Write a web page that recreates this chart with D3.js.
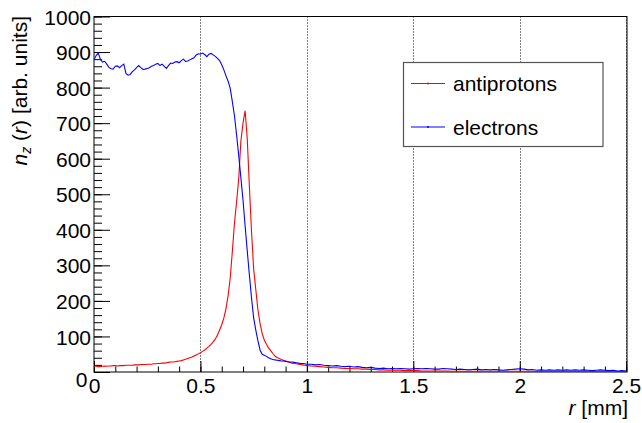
<!DOCTYPE html>
<html>
<head>
<meta charset="utf-8">
<script src="https://cdn.jsdelivr.net/npm/d3@7"></script>
<style>
  body { margin: 0; background: #fff; }
  svg { display: block; }
  text { font-family: "Liberation Sans", Arial, Helvetica, sans-serif; fill: #000; }
</style>
</head>
<body>
<div id="chart"></div>
<script>
// bin centres in mm: fine bins up to 1 mm, coarser in the tail
const rCore = [0.00,0.01,0.02,0.03,0.04,0.05,0.06,0.07,0.08,0.09,
  0.10,0.11,0.12,0.13,0.14,0.15,0.16,0.17,0.18,0.19,
  0.20,0.21,0.22,0.23,0.24,0.25,0.26,0.27,0.28,0.29,
  0.30,0.31,0.32,0.33,0.34,0.35,0.36,0.37,0.38,0.39,
  0.40,0.41,0.42,0.43,0.44,0.45,0.46,0.47,0.48,0.49,
  0.50,0.51,0.52,0.53,0.54,0.55,0.56,0.57,0.58,0.59,
  0.60,0.61,0.62,0.63,0.64,0.65,0.66,0.67,0.68,0.69,
  0.70,0.71,0.72,0.73,0.74,0.75,0.76,0.77,0.78,0.79,
  0.80,0.81,0.82,0.83,0.84,0.85,0.86,0.87,0.88,0.89,
  0.90,0.91,0.92,0.93,0.94,0.95,0.96,0.97,0.98,0.99,1.00]
const rTail = [1.02,1.04,1.06,1.08,1.10,1.12,1.14,1.16,1.18,1.20,
  1.22,1.24,1.26,1.28,1.30,1.32,1.34,1.36,1.38,1.40,
  1.42,1.44,1.46,1.48,1.50,1.52,1.54,1.56,1.58,1.60,
  1.62,1.64,1.66,1.68,1.70,1.72,1.74,1.76,1.78,1.80,
  1.82,1.84,1.86,1.88,1.90,1.92,1.94,1.96,1.98,2.00,
  2.02,2.04,2.06,2.08,2.10,2.12,2.14,2.16,2.18,2.20,
  2.22,2.24,2.26,2.28,2.30,2.32,2.34,2.36,2.38,2.40,
  2.42,2.44,2.46,2.48,2.50]

const antiCore = [17,16,15,15,16,17,16,17,17,18,
  18,17,18,18,18,19,19,19,19,20,
  20,20,21,21,21,22,22,22,23,23,
  24,24,25,25,26,27,28,28,29,30,
  31,32,34,36,38,40,42,45,48,51,
  54,58,62,67,72,78,85,93,104,118,
  133,152,178,215,265,340,420,480,545,650,
  700,735,655,520,395,290,232,175,137,108,
  90,78,68,60,52,45,41,38,35,33,
  31,29,27,25,24,23,22,21,20,19,18]
const antiTail = [17,16,15,14,13,12,12,11,10,10,
  9,9,8,8,7,7,6,6,5,5,
  5,5,4,4,4,4,3,3,3,3,
  3,3,3,2,2,2,2,2,2,2,
  2,2,2,2,2,2,2,2,2,2,
  2,2,2,1,1,1,1,1,1,1,
  1,1,1,1,1,1,1,1,1,1,
  1,1,1,1,1]

const elecCore = [878,890,897,880,872,874,866,857,853,852,
  860,861,856,862,866,840,835,837,845,850,
  856,862,856,851,852,854,856,860,862,866,
  868,862,866,860,854,862,869,868,872,873,
  870,876,880,874,875,878,881,884,892,895,
  894,897,893,887,894,896,892,888,882,876,
  864,850,833,818,798,760,720,666,608,546,
  484,410,340,272,208,152,118,88,62,50,
  47,44,40,37,35,34,33,32,31,31,
  30,29,28,28,27,26,25,24,24,23,22]
const elecTail = [22,20,21,19,18,17,18,16,15,16,
  14,15,13,12,13,11,10,11,9,10,
  9,10,9,8,9,10,9,10,9,8,
  8,10,9,8,7,8,7,6,7,8,
  6,7,6,7,6,5,6,7,8,9,
  8,6,7,5,6,5,6,5,6,5,
  6,5,6,5,6,5,4,5,6,5,
  4,5,3,4,3]

const xTicks = [0, 0.5, 1, 1.5, 2, 2.5]
const yTicks = [0, 100, 200, 300, 400, 500, 600, 700, 800, 900, 1000]

const series = [
  { name: 'antiprotons', color: '#ff0000', r: rCore.concat(rTail), v: antiCore.concat(antiTail) },
  { name: 'electrons', color: '#0000ff', r: rCore.concat(rTail), v: elecCore.concat(elecTail) }
]

const W = 642, H = 423
const plot = { left: 94, right: 627, top: 16.5, bottom: 372 }

const svg = d3.select('#chart').append('svg')
  .attr('width', W).attr('height', H)

const x = d3.scaleLinear().domain([0, 2.5]).range([plot.left, plot.right - 0.8])
const y = d3.scaleLinear().domain([0, 1000]).range([plot.bottom, plot.top])

// vertical dotted grid
svg.append('g')
  .selectAll('line')
  .data(xTicks.slice(1))
  .join('line')
  .attr('x1', d => Math.round(x(d)) + 0.5)
  .attr('x2', d => Math.round(x(d)) + 0.5)
  .attr('y1', plot.top)
  .attr('y2', plot.bottom)
  .attr('stroke', '#000')
  .attr('stroke-width', 1)
  .attr('stroke-dasharray', '1,2')

// minor ticks
const xMinor = d3.range(0, 2.5001, 0.1)
const yMinor = d3.range(0, 1000.1, 20)

const gxMinor = svg.append('g')
  .attr('transform', `translate(0,${plot.bottom})`)
  .call(d3.axisBottom(x).tickValues(xMinor).tickSize(-5.5).tickFormat(''))
const gyMinor = svg.append('g')
  .attr('transform', `translate(${plot.left},0)`)
  .call(d3.axisLeft(y).tickValues(yMinor).tickSize(-8).tickFormat(''))

const gx = svg.append('g')
  .attr('transform', `translate(0,${plot.bottom})`)
  .call(d3.axisBottom(x).tickValues(xTicks).tickSize(-11).tickPadding(21).tickFormat(d3.format('')))
const gy = svg.append('g')
  .attr('transform', `translate(${plot.left},0)`)
  .call(d3.axisLeft(y).tickValues(yTicks).tickSize(-16).tickPadding(3).tickFormat(d3.format('')))

for (const g of [gxMinor, gyMinor, gx, gy]) {
  g.select('.domain').remove()
  g.selectAll('line').attr('stroke', '#000').attr('stroke-width', 1)
}
gx.selectAll('text').attr('font-size', 21).attr('dy', 0).attr('y', 21)
gy.selectAll('text').attr('font-size', 21).attr('dy', '0.36em')
// the y "0" sits low, beside the x "0"
gy.selectAll('.tick').filter(d => d === 0).select('text').attr('dy', '0.7em').attr('x', -6.5)

// frame
svg.append('rect')
  .attr('x', plot.left).attr('y', plot.top)
  .attr('width', plot.right - plot.left).attr('height', plot.bottom - plot.top)
  .attr('fill', 'none').attr('stroke', '#000').attr('stroke-width', 1)

// curves
svg.append('clipPath').attr('id', 'clip')
  .append('rect')
  .attr('x', plot.left).attr('y', plot.top)
  .attr('width', plot.right - plot.left).attr('height', plot.bottom - plot.top)

const line = d3.line().x(d => x(d[0])).y(d => y(d[1]))

svg.append('g').attr('clip-path', 'url(#clip)')
  .selectAll('path')
  .data(series)
  .join('path')
  .attr('d', s => line(s.r.map((r, i) => [r, s.v[i]])))
  .attr('fill', 'none')
  .attr('stroke', s => s.color)
  .attr('stroke-width', 1.1)

// axis titles
svg.append('text')
  .attr('x', 628).attr('y', 415)
  .attr('text-anchor', 'end')
  .attr('font-size', 21)
  .html('<tspan font-style="italic">r</tspan> [mm]')

svg.append('text')
  .attr('transform', 'translate(27,16) rotate(-90)')
  .attr('text-anchor', 'end')
  .attr('font-size', 21)
  .html('<tspan font-style="italic">n</tspan><tspan font-size="14" dy="4" font-style="italic">z</tspan><tspan dy="-4"> (</tspan><tspan font-style="italic">r</tspan>) [arb. units]')

// legend
const legend = svg.append('g')
legend.append('rect')
  .attr('x', 403.5).attr('y', 62.5)
  .attr('width', 199.5).attr('height', 84)
  .attr('fill', '#fff').attr('stroke', '#555').attr('stroke-width', 1.2)

const item = legend.selectAll('g.item')
  .data(series)
  .join('g')
  .attr('class', 'item')
  .attr('transform', (d, i) => `translate(0,${83.5 + i * 43.5})`)
item.append('line')
  .attr('x1', 411).attr('x2', 445)
  .attr('stroke', d => d.color).attr('stroke-width', 1.1)
item.append('circle')
  .attr('cx', 428).attr('r', 1)
  .attr('fill', d => d.color)
item.append('text')
  .attr('x', 453).attr('dy', '0.36em')
  .attr('font-size', 21)
  .text(d => d.name)
</script>
</body>
</html>
